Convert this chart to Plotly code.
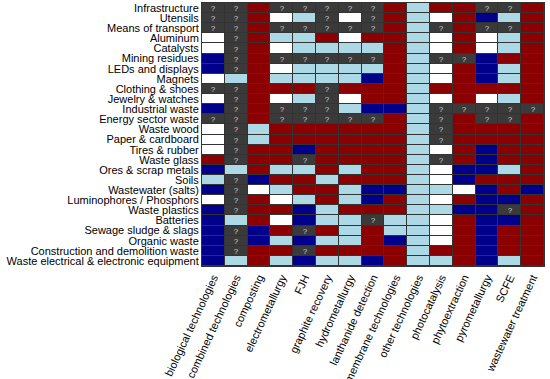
import plotly.graph_objects as go

waste_streams = [
    "Infrastructure", "Utensils", "Means of transport", "Aluminum", "Catalysts",
    "Mining residues", "LEDs and displays", "Magnets", "Clothing & shoes",
    "Jewelry & watches", "Industrial waste", "Energy sector waste", "Waste wood",
    "Paper & cardboard", "Tires & rubber", "Waste glass", "Ores & scrap metals",
    "Soils", "Wastewater (salts)", "Luminophores / Phosphors", "Waste plastics",
    "Batteries", "Sewage sludge & slags", "Organic waste",
    "Construction and demolition waste", "Waste electrical & electronic equipment",
]

technologies = [
    "biological technologies", "combined technologies", "composting",
    "electrometallurgy", "FJH", "graphite recovery", "hydrometallurgy",
    "lanthanide detection", "membrane technologies", "other technologies",
    "photocatalysis", "phytoextraction", "pyrometallurgy", "SCFE",
    "wastewater treatment",
]

# Status codes per cell: B = dark blue, L = light blue, W = white, R = dark red, Q = unknown (?)
status_rows = [
    "QQRQQQQQRLRRQQR",
    "QQRWLQWQRLWRBLR",
    "QQRQQQQQRLQRQQR",
    "WQRLLRWRRLWRWLR",
    "WQRWLLLLRLWRWLR",
    "BQRQQQQQRLQQBRR",
    "BQRWLLLLRLWRBLR",
    "WLRLLLLBRLWRBLR",
    "QQRRRQRRRLRRRRR",
    "WQRWLQWRRLWRWLR",
    "BQRQQQLBBLQQQQQ",
    "QQRQQQQQRLQRQQR",
    "WQLRRRRRRLQRRRR",
    "WQLRRRRRRLQRRRR",
    "WQRRBRRRRLWRBRR",
    "RQRRQRRRRLQRBRR",
    "BLRLLRLRRLWBBLR",
    "LQBRRLRRRLWBRRR",
    "BQWLRRLBBLLWBRB",
    "WQRWLRLBRLWRBBR",
    "BQRRBLRRRLLBBQR",
    "BLRWBLLQLLWRBBR",
    "BQBRQRLRLLWRBRR",
    "BQBLBLLRBLWRBRR",
    "BQRRQRRRRLRRBRR",
    "BLRLBLLBRLLRBLR",
]

code_map = {"B": 0, "L": 1, "W": 2, "R": 3, "Q": 4}
z = [[code_map[c] for c in row] for row in status_rows]
text = [["?" if c == "Q" else "" for c in row] for row in status_rows]

palette = ["#00008b", "#add8e6", "#ffffff", "#8b0000", "#3a3a3a"]
n = len(palette)
colorscale = []
for i, col in enumerate(palette):
    colorscale.append([i / n, col])
    colorscale.append([(i + 1) / n, col])

fig = go.Figure(
    go.Heatmap(
        z=z,
        x=technologies,
        y=waste_streams,
        text=text,
        texttemplate="%{text}",
        textfont=dict(size=8, color="#d0d0d0", family="Liberation Sans, Arial"),
        colorscale=colorscale,
        zmin=-0.5,
        zmax=4.5,
        showscale=False,
        xgap=1,
        ygap=1,
        hoverinfo="skip",
    )
)

fig.update_layout(
    width=550,
    height=379,
    margin=dict(l=202, r=6, t=3, b=113),
    paper_bgcolor="white",
    plot_bgcolor="#333333",
    font=dict(family="Liberation Sans, Arial", size=11, color="black"),
)
fig.update_xaxes(
    tickmode="array",
    tickvals=technologies,
    ticktext=technologies,
    tickangle=-65,
    automargin=False,
    showgrid=False,
    zeroline=False,
    ticks="",
    showline=True,
    linecolor="#333333",
    mirror=True,
    tickfont=dict(size=11),
)
fig.update_yaxes(
    tickmode="array",
    tickvals=waste_streams,
    ticktext=waste_streams,
    autorange="reversed",
    automargin=False,
    showgrid=False,
    zeroline=False,
    ticks="",
    showline=True,
    linecolor="#333333",
    mirror=True,
    tickfont=dict(size=11),
)

fig.write_html(
    "out.html",
    config={"displayModeBar": False},
    post_script="document.body.style.margin='0';document.body.style.overflow='hidden';",
)
